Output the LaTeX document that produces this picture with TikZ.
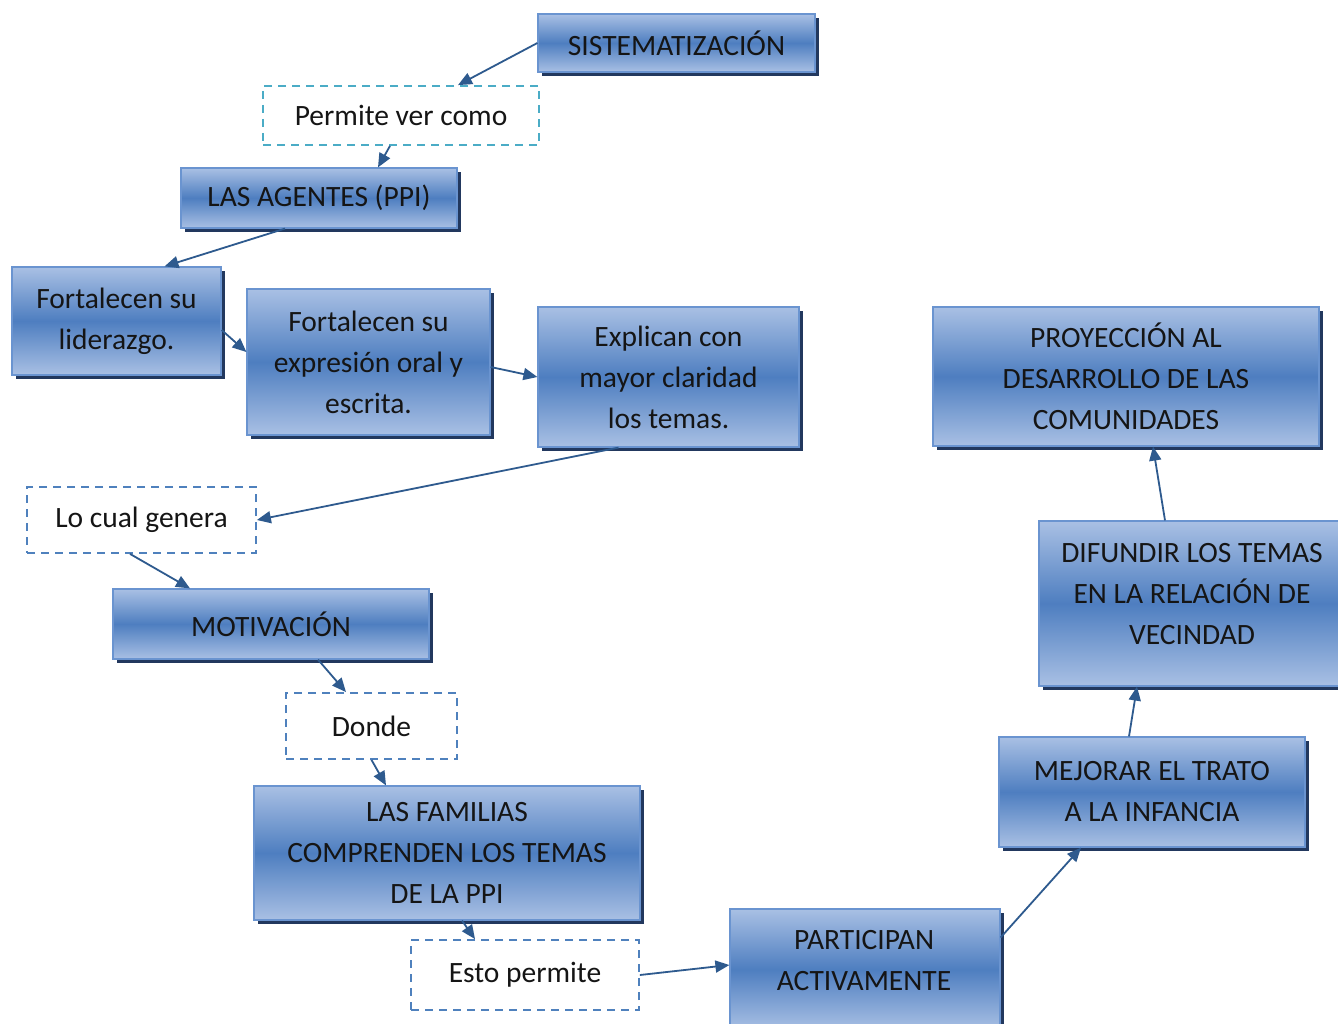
\documentclass[tikz,border=0pt]{standalone}
\usepackage{fontspec}
\setmainfont{Carlito}
\usetikzlibrary{arrows.meta,shadows,calc}
\definecolor{boxlight}{HTML}{A9C0E4}
\definecolor{boxmid}{HTML}{4E7EC0}
\definecolor{boxline}{HTML}{6A94D0}
\definecolor{shadowc}{HTML}{22385E}
\definecolor{dashcyan}{HTML}{4BACC6}
\definecolor{dashblue}{HTML}{4F81BD}
\definecolor{arrowc}{HTML}{2E5A8E}
\definecolor{txtc}{HTML}{151515}
\begin{document}
\begin{tikzpicture}[x=1pt,y=-1pt,
  font=\fontsize{29.5}{41}\selectfont, text=txtc,
  bluebox/.style={rectangle, inner sep=0pt, align=center,
    top color=boxlight, bottom color=boxlight, middle color=boxmid,
    draw=boxline, line width=1.2pt,
    drop shadow={shadow xshift=4pt, shadow yshift=-4pt, fill=shadowc, opacity=1}},
  dashbox/.style={rectangle, inner sep=0pt, align=center, fill=white,
    draw=dashblue, line width=1.8pt, dash pattern=on 8pt off 6pt},
  txtnode/.style={inner sep=0pt, align=center},
  conn/.style={draw=arrowc, line width=1.8pt,
    -{Triangle[length=14pt,width=12pt]}}
]
\useasboundingbox (0,0) rectangle (1338,1024);
\fill[white] (0,0) rectangle (1338,1024);

% blue boxes
\node[bluebox, minimum width=277pt, minimum height=58pt] (sis) at (676.5,43) {SISTEMATIZACIÓN};
\node[bluebox, minimum width=276pt, minimum height=60pt] (age) at (319,198) {LAS AGENTES (PPI)};
\node[bluebox, minimum width=209pt, minimum height=108pt] (lid) at (116.5,321) {Fortalecen su\\liderazgo.};
\node[bluebox, minimum width=243pt, minimum height=146pt] (exp) at (368.5,362) {Fortalecen su\\expresión oral y\\escrita.};
\node[bluebox, minimum width=261pt, minimum height=140pt] (expl) at (668.5,377) {Explican con\\mayor claridad\\los temas.};
\node[bluebox, minimum width=386pt, minimum height=139pt] (pro) at (1126,376.5) {PROYECCIÓN AL\\DESARROLLO DE LAS\\COMUNIDADES};
\node[bluebox, minimum width=316pt, minimum height=70pt] (mot) at (271,624) {MOTIVACIÓN};
\node[bluebox, minimum width=386pt, minimum height=134pt] (fam) at (447,853) {LAS FAMILIAS\\COMPRENDEN LOS TEMAS\\DE LA PPI};
\node[bluebox, minimum width=306pt, minimum height=110pt] (mej) at (1152,792) {MEJORAR EL TRATO\\A LA INFANCIA};
\node[bluebox, minimum width=306pt, minimum height=165pt] (dif) at (1192,603.5) {};
\node[txtnode] (diftxt) at (1192,594) {DIFUNDIR LOS TEMAS\\EN LA RELACIÓN DE\\VECINDAD};
\node[bluebox, minimum width=270pt, minimum height=121pt] (par) at (865,969.5) {};
\node[txtnode] (partxt) at (864,961) {PARTICIPAN\\ACTIVAMENTE};

% dashed boxes
\node[dashbox, draw=dashcyan, minimum width=276pt, minimum height=59pt] (per) at (401,115.5) {Permite ver como};
\node[dashbox, minimum width=229pt, minimum height=66pt] (lo) at (141.5,520) {Lo cual genera};
\node[dashbox, minimum width=171pt, minimum height=66pt] (don) at (371.5,726) {Donde};
\node[dashbox, minimum width=228pt, minimum height=70pt] (est) at (525,975) {Esto permite};

% connectors
\draw[conn] (sis.west) -- ([xshift=57pt]per.north);
\draw[conn] ([xshift=-11pt]per.south) -- ([xshift=59pt]age.north);
\draw[conn] ([xshift=-34pt]age.south) -- ([xshift=48pt]lid.north);
\draw[conn] ([yshift=-9pt]lid.east) -- ([yshift=10pt]exp.west);
\draw[conn] ([yshift=-5pt]exp.east) -- (expl.west);
\draw[conn] ([xshift=-50pt]expl.south) -- (lo.east);
\draw[conn] ([xshift=-11.5pt]lo.south) -- ([xshift=-81pt]mot.north);
\draw[conn] ([xshift=47pt]mot.south) -- ([xshift=-25.5pt]don.north);
\draw[conn] (don.south) -- ([xshift=-61pt]fam.north);
\draw[conn] ([xshift=15pt]fam.south) -- ([xshift=-50pt]est.north);
\draw[conn] (est.east) -- ([yshift=4.5pt]par.west);
\draw[conn] ([yshift=32pt]par.east) -- ([xshift=-71pt]mej.south);
\draw[conn] ([xshift=-23pt]mej.north) -- ([xshift=-55pt]dif.south);
\draw[conn] ([xshift=-27pt]dif.north) -- ([xshift=27pt]pro.south);
\end{tikzpicture}
\end{document}
